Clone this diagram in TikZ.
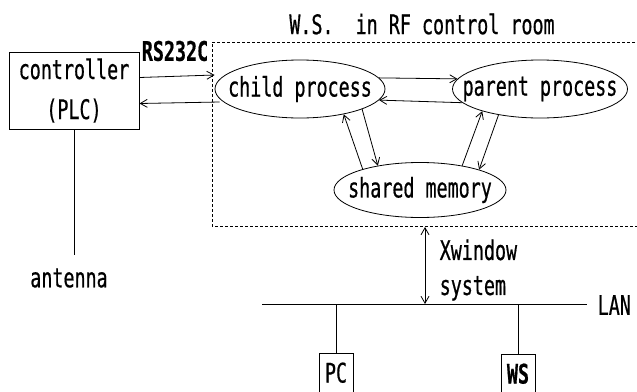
\documentclass[tikz,border=0pt]{standalone}
\usepackage{fontspec}
\newfontfamily\diafont[FakeStretch=0.68,FakeBold=0.6]{DejaVu Sans Mono}
\usepackage[]{tikz}
\usetikzlibrary{positioning}
\usetikzlibrary{arrows.meta}
\usetikzlibrary{shapes.geometric}
\tikzset{unit/.style={draw,line width=1pt,inner sep=0pt},
         proc/.style={ellipse,draw,inner sep=0pt,minimum height=58pt},
         flow/.style={-{Straight Barb[length=7pt,width=8pt]}},
         both/.style={{Straight Barb[length=7pt,width=8pt]}-{Straight Barb[length=7pt,width=8pt]}}}
% text that does not widen the ellipse around it
\newcommand\ctext[1]{\makebox[0pt]{#1}}
\frenchspacing

\begin{document}
\begin{tikzpicture}[x=1pt,y=-1pt,line width=0.8pt,font=\diafont\fontsize{27}{40}\selectfont]
            \useasboundingbox (0,0) rectangle (637,391);
            % the workstation, open to the right
            \draw[dash pattern=on 3pt off 2pt] (645,42) -| (212,226) -- (645,226);
            \node (title) at (422,24) {W.S.\ \ in RF control room};
            \node[unit,minimum width=130pt,minimum height=77pt,align=center] (plc) at (74,90.5) {controller\\(PLC)};
            \node (rs) at (175,51) {\bfseries RS232C};
            \node[proc,minimum width=170pt] (child) at (300,89) {\ctext{child process}};
            \node[proc,minimum width=175pt] (parent) at (540,89) {\ctext{parent process}};
            \node[proc,minimum width=172pt,minimum height=55pt] (shm) at (420,190) {\ctext{shared memory}};
            \draw[flow] ([yshift=13pt]plc.east) -- ([yshift=14pt]child.west);
            \draw[flow] ([shift={(5pt,-13pt)}]child.west) -- ([yshift=-13pt]plc.east);
            \draw[flow] (child.8) -- (parent.173);
            \draw[flow] (parent.190) -- (child.352);
            \draw[flow] (shm.160) -- (child.330);
            \draw[flow] (child.342) -- (shm.150);
            \draw[flow] (shm.30) -- (parent.201);
            \draw[flow] (parent.212) -- (shm.19);
            % antenna line
            \coordinate (ant) at (74,255);
            \draw (plc.south) -- (ant);
            \node (antenna) at (69,278) {antenna};
            % LAN and the terminals on it
            \coordinate (lanL) at (262,304);
            \coordinate (lanR) at (587,304);
            \draw (lanL) -- (lanR);
            \node[anchor=west] (lan) at (594,305) {LAN};
            \coordinate (xtop) at (425,227);
            \draw[both] (xtop) -- (xtop |- lanL);
            \node[anchor=west,align=left] (xwin) at (436,270) {Xwindow\\[-5pt]system};
            \node[unit,anchor=north,minimum width=34pt,inner ysep=9pt,text depth=14pt] (pc) at (336,353) {PC};
            \node[unit,anchor=north,minimum width=34pt,inner ysep=9pt,text depth=14pt] (ws) at (518,354) {\bfseries WS};
            \draw (pc.north) -- (pc.north |- lanL);
            \draw (ws.north) -- (ws.north |- lanL);
        \end{tikzpicture}
\end{document}
